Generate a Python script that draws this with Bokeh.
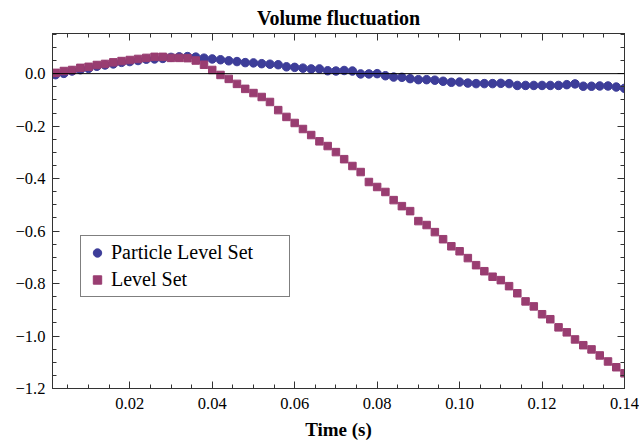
from bokeh.plotting import figure
from bokeh.models import Range1d, FixedTicker, LinearAxis, Span, Legend, LegendItem
from bokeh.embed import file_html
from bokeh.resources import INLINE
import numpy as np

time_s = [0.002, 0.004, 0.006, 0.008, 0.010, 0.012, 0.014, 0.016, 0.018, 0.020,
          0.022, 0.024, 0.026, 0.028, 0.030, 0.032, 0.034, 0.036, 0.038, 0.040,
          0.042, 0.044, 0.046, 0.048, 0.050, 0.052, 0.054, 0.056, 0.058, 0.060,
          0.062, 0.064, 0.066, 0.068, 0.070, 0.072, 0.074, 0.076, 0.078, 0.080,
          0.082, 0.084, 0.086, 0.088, 0.090, 0.092, 0.094, 0.096, 0.098, 0.100,
          0.102, 0.104, 0.106, 0.108, 0.110, 0.112, 0.114, 0.116, 0.118, 0.120,
          0.122, 0.124, 0.126, 0.128, 0.130, 0.132, 0.134, 0.136, 0.138, 0.140]

particle_level_set = [-0.004, 0.001, 0.010, 0.015, 0.020, 0.028, 0.033, 0.037, 0.043, 0.046,
                      0.050, 0.055, 0.056, 0.058, 0.062, 0.064, 0.065, 0.063, 0.059, 0.056,
                      0.053, 0.049, 0.046, 0.042, 0.041, 0.038, 0.036, 0.034, 0.026, 0.024,
                      0.021, 0.018, 0.018, 0.011, 0.010, 0.012, 0.010, -0.001, -0.001, 0.000,
                      -0.008, -0.013, -0.014, -0.019, -0.023, -0.023, -0.025, -0.029, -0.033, -0.032,
                      -0.036, -0.038, -0.038, -0.038, -0.037, -0.038, -0.045, -0.045, -0.045, -0.045,
                      -0.045, -0.045, -0.042, -0.039, -0.048, -0.048, -0.047, -0.047, -0.051, -0.056]

level_set = [0.003, 0.010, 0.014, 0.022, 0.026, 0.033, 0.037, 0.043, 0.048, 0.052,
             0.056, 0.060, 0.064, 0.064, 0.060, 0.060, 0.059, 0.050, 0.034, 0.014,
             -0.005, -0.020, -0.039, -0.058, -0.074, -0.089, -0.108, -0.139, -0.165, -0.188,
             -0.211, -0.234, -0.258, -0.276, -0.299, -0.326, -0.352, -0.375, -0.413, -0.432,
             -0.451, -0.482, -0.505, -0.524, -0.562, -0.577, -0.604, -0.631, -0.658, -0.677,
             -0.703, -0.730, -0.753, -0.774, -0.787, -0.810, -0.837, -0.868, -0.887, -0.917,
             -0.936, -0.967, -0.986, -1.013, -1.035, -1.051, -1.074, -1.097, -1.119, -1.142]

x_tick_values = [0.02, 0.04, 0.06, 0.08, 0.10, 0.12, 0.14]
x_tick_labels = ["0.02", "0.04", "0.06", "0.08", "0.10", "0.12", "0.14"]
y_tick_values = [-1.2, -1.0, -0.8, -0.6, -0.4, -0.2, 0.0]
y_tick_labels = ["\u22121.2", "\u22121.0", "\u22120.8", "\u22120.6", "\u22120.4", "\u22120.2", "0.0"]

series_names = ["Particle Level Set", "Level Set"]

FONT = "Liberation Serif"
FRAME = "#333333"

x_minor = [round(v, 4) for v in np.arange(0.005, 0.1401, 0.005)]
y_minor = [round(v, 3) for v in np.arange(-1.2, 0.151, 0.05)]

p = figure(width=639, height=442, output_backend="svg", toolbar_location=None,
           x_range=Range1d(0.00125, 0.14), y_range=Range1d(-1.2, 0.153),
           min_border_left=52, min_border_right=15, min_border_top=33, min_border_bottom=54)

p.grid.visible = False
p.outline_line_color = FRAME
p.background_fill_color = "white"
p.border_fill_color = "white"

p.title.text = "Volume fluctuation"
p.title.align = "center"
p.title.text_font = FONT
p.title.text_font_size = "20px"
p.title.text_font_style = "bold"
p.title.text_color = "black"
p.title.standoff = 9


def style_axis(ax, ticker, tick_in=7, minor_in=4):
    ax.ticker = ticker
    ax.axis_line_color = FRAME
    ax.major_tick_line_color = FRAME
    ax.minor_tick_line_color = FRAME
    ax.major_tick_in = tick_in
    ax.major_tick_out = 0
    ax.minor_tick_in = minor_in
    ax.minor_tick_out = 0


xt = FixedTicker(ticks=x_tick_values, minor_ticks=x_minor)
yt = FixedTicker(ticks=y_tick_values, minor_ticks=y_minor)

xa = p.xaxis[0]
style_axis(xa, xt)
xa.major_label_overrides = dict(zip(x_tick_values, x_tick_labels))
xa.major_label_text_font = FONT
xa.major_label_text_font_size = "16.5px"
xa.major_label_text_color = "black"
xa.major_label_standoff = 9
xa.axis_label = "Time (s)"
xa.axis_label_text_font = FONT
xa.axis_label_text_font_size = "19px"
xa.axis_label_text_font_style = "bold"
xa.axis_label_text_color = "black"
xa.axis_label_standoff = 7

ya = p.yaxis[0]
style_axis(ya, yt)
ya.major_label_overrides = dict(zip(y_tick_values, y_tick_labels))
ya.major_label_text_font = FONT
ya.major_label_text_font_size = "16.5px"
ya.major_label_text_color = "black"
ya.major_label_standoff = 7

# mirrored ticks on the top and right frame edges (no labels)
for side, majors, minors in (("above", x_tick_values, x_minor), ("right", y_tick_values, y_minor)):
    a1 = LinearAxis(ticker=FixedTicker(ticks=[], minor_ticks=minors))
    style_axis(a1, a1.ticker, minor_in=4)
    a1.major_label_standoff = 0
    p.add_layout(a1, side)
    a2 = LinearAxis(ticker=FixedTicker(ticks=[], minor_ticks=majors))
    style_axis(a2, a2.ticker, minor_in=7)
    a2.major_label_standoff = 0
    p.add_layout(a2, side)

r1 = p.scatter(time_s, particle_level_set, marker="circle", size=8.5,
               fill_color="#3d3d99", line_color="#3d3d99")
r2 = p.scatter(time_s, level_set, marker="square", size=7.5,
               fill_color="#993d71", line_color="#993d71")

p.add_layout(Span(location=0, dimension="width", line_color="black", line_width=1))

legend = Legend(items=[LegendItem(label=series_names[0], renderers=[r1]),
                       LegendItem(label=series_names[1], renderers=[r2])],
                location=(28, 91))
legend.label_text_font = FONT
legend.label_text_font_size = "20px"
legend.label_text_color = "black"
legend.border_line_color = "black"
legend.border_line_width = 1
legend.background_fill_color = "white"
legend.background_fill_alpha = 1.0
legend.padding = 5
legend.spacing = 4
legend.glyph_height = 21
legend.label_height = 21
legend.glyph_width = 22
legend.label_standoff = 3
legend.label_width = 173
legend.margin = 0
p.add_layout(legend)

open("out.html", "w").write(file_html(p, INLINE))
